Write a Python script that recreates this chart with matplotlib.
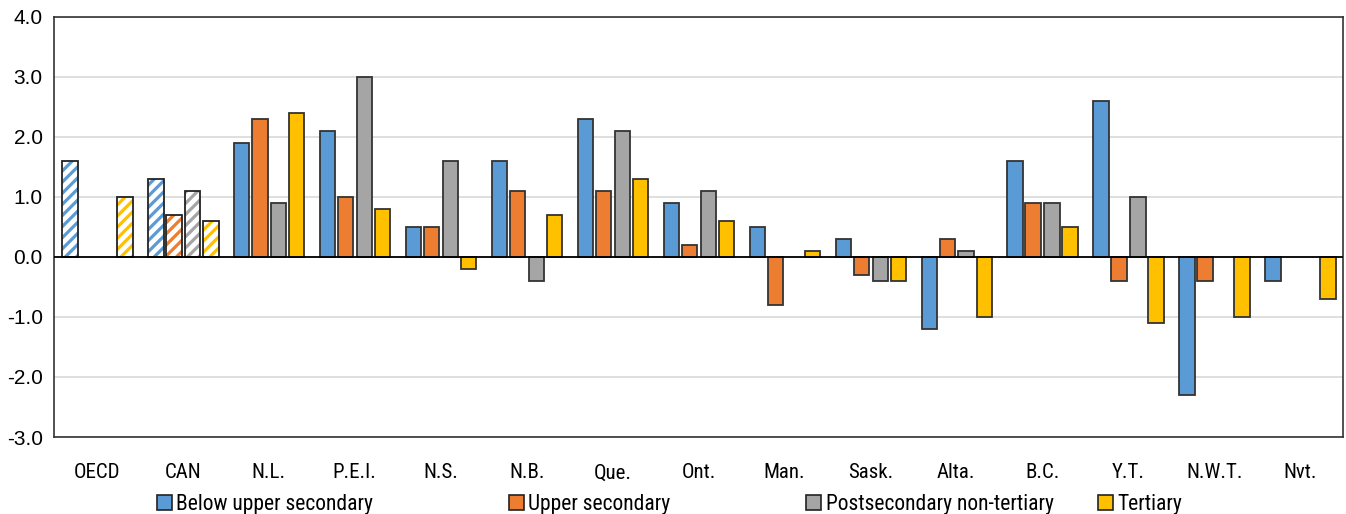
import numpy as np
import matplotlib
matplotlib.use("Agg")
import matplotlib.pyplot as plt
from matplotlib.patches import Patch
from matplotlib import font_manager

categories = ["OECD", "CAN", "N.L.", "P.E.I.", "N.S.", "N.B.", "Que.", "Ont.",
              "Man.", "Sask.", "Alta.", "B.C.", "Y.T.", "N.W.T.", "Nvt."]
below_upper_secondary = [1.6, 1.3, 1.9, 2.1, 0.5, 1.6, 2.3, 0.9, 0.5, 0.3, -1.2, 1.6, 2.6, -2.3, -0.4]
upper_secondary = [np.nan, 0.7, 2.3, 1.0, 0.5, 1.1, 1.1, 0.2, -0.8, -0.3, 0.3, 0.9, -0.4, -0.4, np.nan]
postsecondary_non_tertiary = [np.nan, 1.1, 0.9, 3.0, 1.6, -0.4, 2.1, 1.1, np.nan, -0.4, 0.1, 0.9, 1.0, np.nan, np.nan]
tertiary = [1.0, 0.6, 2.4, 0.8, -0.2, 0.7, 1.3, 0.6, 0.1, -0.4, -1.0, 0.5, -1.1, -1.0, -0.7]
series_names = ["Below upper secondary", "Upper secondary", "Postsecondary non-tertiary", "Tertiary"]
hatched_categories = ["OECD", "CAN"]

series = [below_upper_secondary, upper_secondary, postsecondary_non_tertiary, tertiary]
colors = ["#5B9BD5", "#ED7D31", "#A5A5A5", "#FFC000"]

names = {f.name for f in font_manager.fontManager.ttflist}
narrow = None
for cand in ["Liberation Sans Narrow", "Roboto Condensed", "Open Sans Condensed", "DejaVu Sans Condensed"]:
    if cand in names:
        narrow = cand
        break
if narrow is None:
    narrow = "Roboto" if "Roboto" in names else "DejaVu Sans"
condensed_fp = font_manager.FontProperties(family=[narrow, 'DejaVu Sans'], stretch='condensed', size=15)
legend_fp = font_manager.FontProperties(family=[narrow, 'DejaVu Sans'], stretch='condensed', size=15.5)

plt.rcParams['font.family'] = [narrow, 'DejaVu Sans']
plt.rcParams['hatch.linewidth'] = 2.3

fig = plt.figure(figsize=(13.46, 5.14), dpi=100)
ax = fig.add_axes([0.0401, 0.1498, 0.9577, 0.8172])

x = np.arange(len(categories))
offsets = [-0.315, -0.105, 0.115, 0.325]
width = 0.18

for s, (vals, col, off) in enumerate(zip(series, colors, offsets)):
    for i, v in enumerate(vals):
        if np.isnan(v):
            continue
        if categories[i] in hatched_categories:
            ax.bar(x[i] + off, v, width, color="white", edgecolor=col, hatch="///",
                   linewidth=0, zorder=3)
            ax.bar(x[i] + off, v, width, fill=False, edgecolor="#222222", linewidth=1.3, zorder=4)
        else:
            ax.bar(x[i] + off, v, width, color=col, edgecolor="#333333", linewidth=1.3, zorder=3)

ax.set_xlim(-0.5, len(categories) - 0.5)
ax.set_ylim(-3, 4)
yt = np.arange(-3, 4.01, 1.0)
ax.set_yticks(yt)
ax.set_yticklabels([f"{t:.1f}" for t in yt], fontsize=15,
                   family=['Liberation Sans', 'DejaVu Sans'])
ax.set_xticks(x)
ax.set_xticklabels(categories, fontproperties=condensed_fp)
ax.tick_params(axis='both', length=0)
ax.tick_params(axis='x', pad=19)
ax.tick_params(axis='y', pad=8)
ax.yaxis.grid(True, color="#D9D9D9", linewidth=1.2, zorder=0)
ax.set_axisbelow(True)
ax.axhline(0, color="black", linewidth=1.3, zorder=5)
for sp in ax.spines.values():
    sp.set_color("#333333")
    sp.set_linewidth(1.2)

legend_x = [0.1165, 0.378, 0.599, 0.816]
for name, col, lx in zip(series_names, colors, legend_x):
    h = Patch(facecolor=col, edgecolor="#222222", linewidth=1.2)
    leg = fig.legend([h], [name], loc="center left", bbox_to_anchor=(lx, 0.019),
                     frameon=False, prop=legend_fp, handlelength=0.7,
                     handleheight=0.7, handletextpad=0.2, borderaxespad=0.0, borderpad=0.0)

fig.savefig("out.png", dpi=100)
